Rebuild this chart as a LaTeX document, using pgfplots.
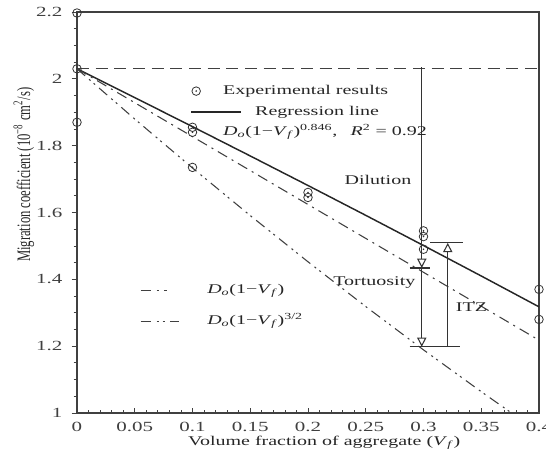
\documentclass[border=0pt]{standalone}
\usepackage{fontspec}
\setmainfont{Liberation Serif}
\newfontfamily\wide{Liberation Serif}[FakeStretch=1.5]
\usepackage{graphicx}
\usepackage{pgfplots}
\pgfplotsset{compat=1.18}
\usetikzlibrary{arrows.meta}
\pgfdeclareplotmark{odot}{%
  \pgfpathcircle{\pgfpointorigin}{\pgfplotmarksize}\pgfusepathqstroke
  \pgfpathcircle{\pgfpointorigin}{0.7pt}\pgfusepathqfill}
\newcommand{\Do}{\textit{D}\textsubscript{\textit{o}}}
\newcommand{\Vf}{\textit{V}\textsubscript{\textit{f}}}
\pgfplotsset{
  legmark/.style={legend image code/.code={\draw[##1] plot coordinates {(3.75pt,0pt)}; \path[draw=none] (0pt,0pt) -- (48pt,0pt);}},
  legline/.style={legend image code/.code={\draw[##1] (0pt,0pt) -- (37.5pt,0pt); \path[draw=none] (0pt,0pt) -- (48pt,0pt);}},
  legA/.style={legend image code/.code={\draw[##1] (0pt,0pt) -- (20pt,0pt); \path[draw=none] (0pt,0pt) -- (50pt,0pt);}},
  legB/.style={legend image code/.code={\draw[##1] (0pt,0pt) -- (28.5pt,0pt); \path[draw=none] (0pt,0pt) -- (50pt,0pt);}},
}
\begin{document}
\begin{tikzpicture}
\path[use as bounding box] (-57.75pt,-30pt) rectangle (351.75pt,309.75pt);
\begin{axis}[
  scale only axis, width=346.5pt, height=300.75pt,
  xmin=0, xmax=0.4, ymin=1, ymax=2.2,
  xtick={0,0.05,0.1,0.15,0.2,0.25,0.3,0.35,0.4},
  xticklabels={0,0.05,0.1,0.15,0.2,0.25,0.3,0.35,0.4},
  ytick={1,1.2,1.4,1.6,1.8,2,2.2},
  yticklabels={1,1.2,1.4,1.6,1.8,2,2.2},
  minor x tick num=4, minor y tick num=3,
  xtick pos=bottom, ytick pos=left,
  xtick align=inside, ytick align=outside,
  major tick length=4pt, minor tick length=2.5pt,
  tick label style={font=\wide\fontsize{10.5}{12}\selectfont, text=black!75},
  xticklabel style={yshift=-3pt},
  yticklabel style={xshift=-3.5pt},
  axis line style={black!75, line width=0.9pt},
  tick style={black!75, line width=0.6pt},
  xlabel={Volume fraction of aggregate (\Vf)},
  xlabel style={font=\wide\fontsize{10}{12}\selectfont, text=black!85, at={(axis description cs:0.535,-0.075)}, anchor=center},
  ylabel={\scalebox{1}[1.5]{Migration coefficient (10\textsuperscript{−8} cm\textsuperscript{2}/s)}},
  ylabel style={font=\fontsize{9.5}{11}\selectfont, text=black!85, at={(axis description cs:-0.115,0.594)}, anchor=center},
  legend style={at={(axis description cs:0.245,0.82)}, anchor=north west, draw=none, fill=none,
    font=\wide\fontsize{10}{12}\selectfont, text=black!85, row sep=5.5pt, inner sep=0pt, column sep=0pt,
    nodes={inner sep=0pt, text height=7.5pt, text depth=2.5pt}},
  legend cell align=left,
]
\addplot[only marks, mark=odot, mark size=3.2pt, black!80, line width=0.6pt, legmark]
  coordinates {(0,2.197) (0,2.03) (0,1.87) (0.1,1.855) (0.1,1.840) (0.1,1.735)
    (0.2,1.660) (0.2,1.645) (0.3,1.545) (0.3,1.528) (0.3,1.490) (0.4,1.370) (0.4,1.280)};
\addlegendentry{\hspace{-24pt}Experimental results}
\addplot[black!85, line width=1.1pt, legline]
  coordinates {(0,2.03) (0.05,1.9438) (0.1,1.8569) (0.15,1.7692) (0.2,1.6808) (0.25,1.5915)
    (0.3,1.5012) (0.35,1.4100) (0.4,1.3177)};
\addlegendentry{Regression line}
\addlegendimage{empty legend}
\addlegendentry{\hspace{-24pt}\Do(1−\Vf)\textsuperscript{0.846},\quad\textit{R}\textsuperscript{2} = 0.92}
% reference level
\addplot[forget plot, black!75, line width=0.8pt, dash pattern=on 9pt off 5pt]
  coordinates {(0,2.03) (0.4,2.03)};
% D0(1-Vf)
\addplot[forget plot, black!75, line width=0.8pt, dash pattern=on 8pt off 4pt on 1.5pt off 4pt]
  coordinates {(0,2.03) (0.1,1.827) (0.2,1.624) (0.3,1.421) (0.4,1.218)};
% D0(1-Vf)^1.5
\addplot[forget plot, black!75, line width=0.8pt, dash pattern=on 8pt off 4pt on 1.5pt off 3pt on 1.5pt off 4pt]
  coordinates {(0,2.03) (0.05,1.8797) (0.1,1.7332) (0.15,1.5908) (0.2,1.4525) (0.25,1.3185)
    (0.3,1.1889) (0.35,1.0638) (0.376,1.0006)};
% annotations
\draw[black!80, line width=0.8pt, -{Triangle[open, length=7pt, width=7pt]}]
  (axis cs:0.2985,2.035) -- (axis cs:0.2985,1.434);
\draw[black!80, line width=0.8pt, -{Triangle[open, length=7pt, width=7pt]}]
  (axis cs:0.2985,1.434) -- (axis cs:0.2985,1.198);
\draw[black!80, line width=0.8pt, -{Triangle[open, length=7pt, width=7pt]}]
  (axis cs:0.321,1.198) -- (axis cs:0.321,1.509);
\draw[black!80, line width=0.8pt] (axis cs:0.288,1.434) -- (axis cs:0.306,1.434);
\draw[black!80, line width=0.8pt] (axis cs:0.288,1.198) -- (axis cs:0.332,1.198);
\draw[black!80, line width=0.8pt] (axis cs:0.306,1.509) -- (axis cs:0.334,1.509);
\node[anchor=east, font=\wide\fontsize{10}{12}\selectfont, text=black!85] at (axis cs:0.2935,1.698) {Dilution};
\node[anchor=east, font=\wide\fontsize{10}{12}\selectfont, text=black!85] at (axis cs:0.297,1.389) {Tortuosity};
\node[anchor=west, font=\wide\fontsize{10}{12}\selectfont, text=black!85] at (axis cs:0.324,1.317) {ITZ};
\end{axis}
\begin{axis}[
  scale only axis, width=346.5pt, height=300.75pt,
  xmin=0, xmax=1, ymin=0, ymax=1, hide axis,
  legend style={at={(axis description cs:0.136,0.3225)}, anchor=north west, draw=none, fill=none,
    font=\wide\fontsize{10}{12}\selectfont, text=black!85, row sep=13pt, inner sep=0pt, column sep=0pt,
    nodes={inner sep=0pt, text height=7.5pt, text depth=2.5pt}},
  legend cell align=left,
]
\addlegendimage{black!75, line width=0.8pt, dash pattern=on 8pt off 4pt on 1.5pt off 4pt, legA}
\addlegendentry{\Do(1−\Vf)}
\addlegendimage{black!75, line width=0.8pt, dash pattern=on 8pt off 4pt on 1.5pt off 3pt on 1.5pt off 4pt, legB}
\addlegendentry{\Do(1−\Vf)\textsuperscript{3/2}}
\end{axis}
\end{tikzpicture}
\end{document}
